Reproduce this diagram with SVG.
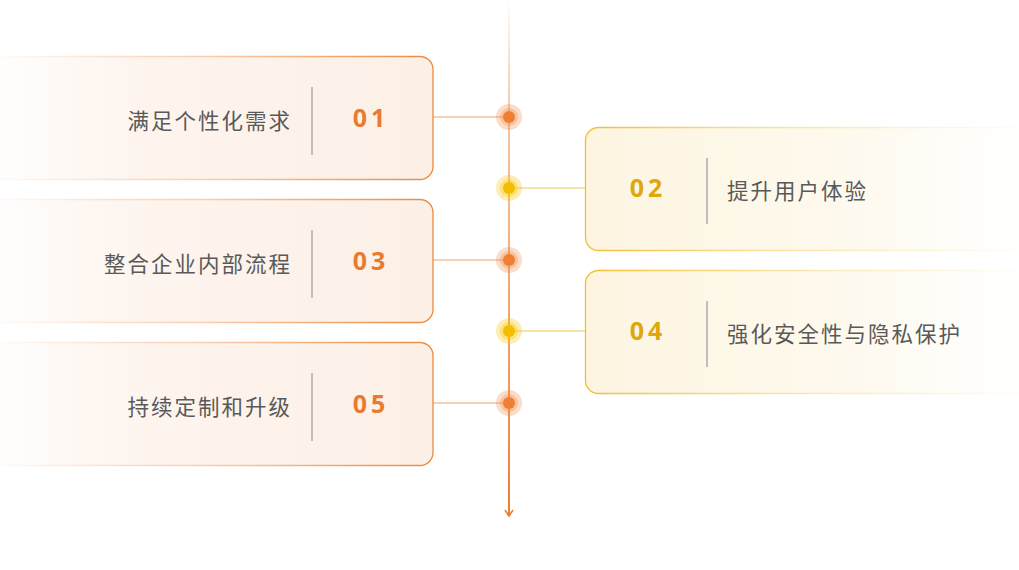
<svg xmlns="http://www.w3.org/2000/svg" width="1019" height="570" viewBox="0 0 1019 570">
<defs>
<linearGradient id="lfill" x1="0" y1="0" x2="1" y2="0"><stop offset="0" stop-color="#fdf0e6" stop-opacity="0"/><stop offset="0.35" stop-color="#fdf2ea" stop-opacity="0.8"/><stop offset="1" stop-color="#fcf0e6"/></linearGradient>
<linearGradient id="lstroke" x1="0" y1="0" x2="1" y2="0"><stop offset="0" stop-color="#ef8c45" stop-opacity="0"/><stop offset="0.5" stop-color="#ef8c45" stop-opacity="0.4"/><stop offset="1" stop-color="#ec8a3e"/></linearGradient>
<linearGradient id="rfill" x1="0" y1="0" x2="1" y2="0"><stop offset="0" stop-color="#fdf5e1"/><stop offset="0.6" stop-color="#fef8ea" stop-opacity="0.8"/><stop offset="1" stop-color="#fffbf2" stop-opacity="0"/></linearGradient>
<linearGradient id="rstroke" x1="0" y1="0" x2="1" y2="0"><stop offset="0" stop-color="#f0c030"/><stop offset="0.5" stop-color="#f2ca50" stop-opacity="0.4"/><stop offset="1" stop-color="#f2ca50" stop-opacity="0"/></linearGradient>
<linearGradient id="vline" gradientUnits="userSpaceOnUse" x1="0" y1="0" x2="0" y2="516"><stop offset="0" stop-color="#ed7d31" stop-opacity="0"/><stop offset="0.25" stop-color="#f09a5c" stop-opacity="0.6"/><stop offset="1" stop-color="#ed7d31"/></linearGradient>
<marker id="arr" markerWidth="10" markerHeight="10" refX="8" refY="5" orient="auto" markerUnits="userSpaceOnUse"><path d="M2,1 L8,5 L2,9" fill="none" stroke="#ed7d31" stroke-width="1.6"/></marker>
</defs>
<style>
.lcard{fill:url(#lfill);stroke:url(#lstroke);stroke-width:1.3}
.rcard{fill:url(#rfill);stroke:url(#rstroke);stroke-width:1.3}
.div{stroke:#bfbfbf;stroke-width:2}
.lbl{font-family:"Noto Sans CJK SC","Noto Sans",sans-serif;font-size:21.5px;fill:#595959;letter-spacing:2px}
.lnum{font-family:"Open Sans","Noto Sans",sans-serif;font-weight:bold;font-size:25px;fill:#e97a2e;letter-spacing:4px}
.rnum{font-family:"Open Sans","Noto Sans",sans-serif;font-weight:bold;font-size:25px;fill:#dfa70a;letter-spacing:4px}
.lc{stroke:#f0a070;stroke-width:1}
.rc{stroke:#f2c850;stroke-width:1}
.oh{fill:#f08a4a;opacity:0.3}
.oi{fill:#ef7f33}
.yh{fill:#f7c300;opacity:0.3}
.yi{fill:#f5bd00}
</style>
<g id="connectors">
<line x1="509" y1="0" x2="509" y2="516" stroke="url(#vline)" stroke-width="2" marker-end="url(#arr)"/>
<line class="lc" x1="433" y1="117" x2="509" y2="117"/>
<line class="lc" x1="433" y1="260" x2="509" y2="260"/>
<line class="lc" x1="433" y1="403" x2="509" y2="403"/>
<line class="rc" x1="509" y1="188" x2="585" y2="188"/>
<line class="rc" x1="509" y1="331" x2="585" y2="331"/>
</g>
<g id="dots">
<circle class="oh" cx="509" cy="117" r="13"/><circle class="oh" cx="509" cy="117" r="9"/><circle class="oi" cx="509" cy="117" r="6"/>
<circle class="yh" cx="509" cy="188" r="13"/><circle class="yh" cx="509" cy="188" r="9"/><circle class="yi" cx="509" cy="188" r="6"/>
<circle class="oh" cx="509" cy="260" r="13"/><circle class="oh" cx="509" cy="260" r="9"/><circle class="oi" cx="509" cy="260" r="6"/>
<circle class="yh" cx="509" cy="331" r="13"/><circle class="yh" cx="509" cy="331" r="9"/><circle class="yi" cx="509" cy="331" r="6"/>
<circle class="oh" cx="509" cy="403" r="13"/><circle class="oh" cx="509" cy="403" r="9"/><circle class="oi" cx="509" cy="403" r="6"/>
</g>
<g id="node1">
<rect class="lcard" x="-20" y="56.5" width="453" height="123" rx="13"/>
<line class="div" x1="312" y1="87" x2="312" y2="155"/>
<text class="lbl" x="292" y="129" text-anchor="end">满足个性化需求</text>
<text class="lnum" x="371" y="127" text-anchor="middle">01</text>
</g>
<g id="node2">
<rect class="rcard" x="585.5" y="127.5" width="453" height="123" rx="13"/>
<line class="div" x1="707" y1="158" x2="707" y2="224"/>
<text class="lbl" x="727" y="199">提升用户体验</text>
<text class="rnum" x="648" y="197" text-anchor="middle">02</text>
</g>
<g id="node3">
<rect class="lcard" x="-20" y="199.5" width="453" height="123" rx="13"/>
<line class="div" x1="312" y1="230" x2="312" y2="298"/>
<text class="lbl" x="292" y="272" text-anchor="end">整合企业内部流程</text>
<text class="lnum" x="371" y="270" text-anchor="middle">03</text>
</g>
<g id="node4">
<rect class="rcard" x="585.5" y="270.5" width="453" height="123" rx="13"/>
<line class="div" x1="707" y1="301" x2="707" y2="367"/>
<text class="lbl" x="727" y="342">强化安全性与隐私保护</text>
<text class="rnum" x="648" y="340" text-anchor="middle">04</text>
</g>
<g id="node5">
<rect class="lcard" x="-20" y="342.5" width="453" height="123" rx="13"/>
<line class="div" x1="312" y1="373" x2="312" y2="441"/>
<text class="lbl" x="292" y="415" text-anchor="end">持续定制和升级</text>
<text class="lnum" x="371" y="413" text-anchor="middle">05</text>
</g>
</svg>
